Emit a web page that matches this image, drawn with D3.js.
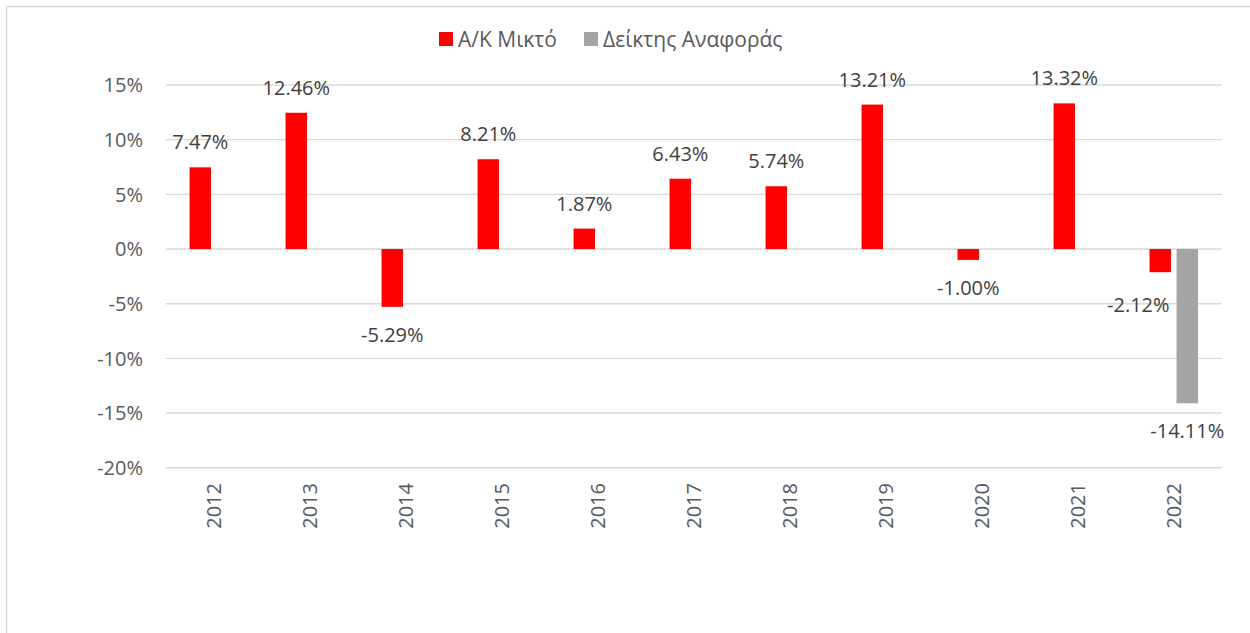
<!DOCTYPE html>
<html>
<head>
<meta charset="utf-8">
<script src="https://cdn.jsdelivr.net/npm/d3@7/dist/d3.min.js"></script>
<style>
  html, body { margin: 0; padding: 0; background: #ffffff; }
  svg { display: block; font-family: "Open Sans", "Noto Sans", sans-serif; }
</style>
</head>
<body>
<svg id="chart" width="1250" height="633"></svg>
<script>
const years = ["2012","2013","2014","2015","2016","2017","2018","2019","2020","2021","2022"];
const fundValues = [7.47, 12.46, -5.29, 8.21, 1.87, 6.43, 5.74, 13.21, -1.00, 13.32, -2.12];
const benchmarkValues = [null, null, null, null, null, null, null, null, null, null, -14.11];
const seriesNames = ["Α/Κ Μικτό", "Δείκτης Αναφοράς"];
const yTicks = [-20, -15, -10, -5, 0, 5, 10, 15];

const colors = ["#ff0000", "#a5a5a5"];
const svg = d3.select("#chart");

// outer border
svg.append("rect")
  .attr("x", 6.5).attr("y", 6.5)
  .attr("width", 1300).attr("height", 700)
  .attr("fill", "none").attr("stroke", "#d9d9d9").attr("stroke-width", 1.5);

const x = d3.scaleBand().domain(years).range([165.8, 1221.8]).padding(0);
const y = d3.scaleLinear().domain([-20, 15]).range([467.7, 85]);

const barW = 21.5, gap = 5.5;

// gridlines
svg.append("g").selectAll("line").data(yTicks).join("line")
  .attr("x1", 165.8).attr("x2", 1221.8)
  .attr("y1", d => y(d)).attr("y2", d => y(d))
  .attr("stroke", "#d9d9d9").attr("stroke-width", 1.4);

// y axis labels
svg.append("g").selectAll("text").data(yTicks).join("text")
  .attr("x", 143).attr("y", d => y(d)).attr("dy", "0.36em")
  .attr("text-anchor", "end")
  .attr("font-size", 20).attr("fill", "#595959")
  .text(d => d + "%");

// x axis labels
svg.append("g").selectAll("text").data(years).join("text")
  .attr("transform", d => `translate(${x(d) + x.bandwidth() / 2},483) rotate(-90)`)
  .attr("dy", "0.36em")
  .attr("text-anchor", "end")
  .attr("font-size", 20).attr("fill", "#595959")
  .text(d => d);

const fundData = years.map((yr, i) => ({ yr, v: fundValues[i], s: 0 }));
const benchData = years.map((yr, i) => ({ yr, v: benchmarkValues[i], s: 1 })).filter(d => d.v !== null);

function barX(d) {
  const c = x(d.yr) + x.bandwidth() / 2;
  return d.s === 0 ? c - gap / 2 - barW : c + gap / 2;
}

const all = fundData.concat(benchData);

svg.append("g").selectAll("rect").data(all).join("rect")
  .attr("x", d => barX(d))
  .attr("y", d => Math.min(y(d.v), y(0)))
  .attr("width", barW)
  .attr("height", d => Math.abs(y(d.v) - y(0)))
  .attr("fill", d => colors[d.s]);

// data labels
const labelShift = { "0-2022": [-22, 4.5] };
svg.append("g").selectAll("text").data(all).join("text")
  .attr("x", d => {
    const s = labelShift[d.s + "-" + d.yr];
    return barX(d) + barW / 2 + (s ? s[0] : 0);
  })
  .attr("y", d => {
    const s = labelShift[d.s + "-" + d.yr];
    const base = d.v >= 0 ? y(d.v) - 18 : y(d.v) + 35;
    return base + (s ? s[1] : 0);
  })
  .attr("text-anchor", "middle")
  .attr("font-size", 20).attr("fill", "#404040")
  .text(d => d.v.toFixed(2) + "%");

// legend
const legendItems = [
  { name: seriesNames[0], color: colors[0], x: 439 },
  { name: seriesNames[1], color: colors[1], x: 584 }
];
const lg = svg.append("g");
legendItems.forEach(it => {
  lg.append("rect").attr("x", it.x).attr("y", 32).attr("width", 14).attr("height", 14).attr("fill", it.color);
  lg.append("text").attr("x", it.x + 19).attr("y", 39).attr("dy", "0.36em")
    .attr("font-size", 21).attr("fill", "#595959").text(it.name);
});
</script>
</body>
</html>
